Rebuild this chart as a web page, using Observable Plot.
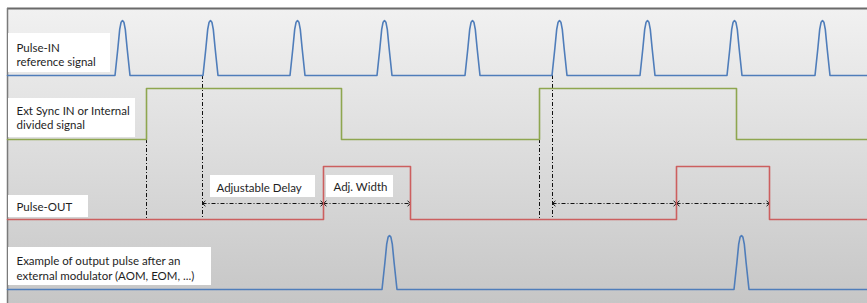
<!DOCTYPE html>
<html>
<head>
<meta charset="utf-8">
<script src="https://cdn.jsdelivr.net/npm/d3@7"></script>
<script src="https://cdn.jsdelivr.net/npm/@observablehq/plot@0.6"></script>
<style>
  html, body { margin: 0; padding: 0; background: #ffffff; }
  #chart svg { display: block; }
</style>
</head>
<body>
<div id="chart"></div>
<script>
// ---- Data (time axis in picture units) ----
const pulseInTimes = [122, 210, 297, 384, 472, 559, 647, 734, 822];   // reference pulse peaks
const syncEdges = [146, 341, 539, 736];                               // rise, fall, rise, fall
const outEdges = [323, 410, 676, 769];                                // rise, fall, rise, fall
const modPulseTimes = [389, 741];                                     // modulated output pulses
const pulseProfileOffsets = [-7.5, -4.6, -2.8, -1.4, 0, 1.4, 2.8, 4.6, 7.5];
const pulseProfileLevels = [0, 0.5, 0.84, 0.97, 1, 0.97, 0.84, 0.5, 0];
const markerTimes = [146, 202, 539, 552];                             // dash-dot vertical guides
const markerFrom = ["sync", "pulse", "sync", "pulse"];
const delayStarts = [202, 552];
const labelTexts = [
  "Pulse-IN\nreference signal",
  "Ext Sync IN or Internal\ndivided signal",
  "Pulse-OUT",
  "Adjustable Delay",
  "Adj. Width",
  "Example of output pulse after an\nexternal modulator (AOM, EOM, ...)"
];

// ---- Layout (track levels, box positions) ----
const T0 = 7, T1 = 867;
const track = {
  pin:  {low: 75,  high: 20},
  sync: {low: 139, high: 88},
  out:  {low: 219, high: 166},
  mod:  {low: 289, high: 235}
};
const arrowY = 203;
const labelLayout = [
  {x1: 8,   x2: 110, y1: 33,  y2: 72,  tx: 16,  ty: 54},
  {x1: 8,   x2: 135, y1: 98,  y2: 137, tx: 16,  ty: 117},
  {x1: 8,   x2: 88,  y1: 195, y2: 217, tx: 16,  ty: 205.5},
  {x1: 210, x2: 315, y1: 175, y2: 197, tx: 216, ty: 187},
  {x1: 326, x2: 393, y1: 175, y2: 197, tx: 333, ty: 186},
  {x1: 8,   x2: 211, y1: 247, y2: 285, tx: 16,  ty: 267.5}
];
const labels = labelTexts.map((t, i) => ({text: t, ...labelLayout[i]}));

// ---- Build signal paths from the data ----
function pulseTrain(times, lv) {
  const pts = [{x: T0, y: lv.low}];
  for (const t of times) {
    pulseProfileOffsets.forEach((o, i) => {
      pts.push({x: t + o, y: lv.low + (lv.high - lv.low) * pulseProfileLevels[i]});
    });
  }
  pts.push({x: T1, y: lv.low});
  return pts;
}
function stepSignal(edges, lv) {
  const pts = [{x: T0, y: lv.low}];
  let state = false;
  for (const e of edges) {
    pts.push({x: e, y: state ? lv.high : lv.low});
    state = !state;
    pts.push({x: e, y: state ? lv.high : lv.low});
  }
  pts.push({x: T1, y: state ? lv.high : lv.low});
  return pts;
}
const pinLine = pulseTrain(pulseInTimes, track.pin);
const syncLine = stepSignal(syncEdges, track.sync);
const outLine = stepSignal(outEdges, track.out);
const modLine = pulseTrain(modPulseTimes, track.mod);

const guides = markerTimes.map((t, i) => ({
  x: t,
  y1: markerFrom[i] === "sync" ? track.sync.low : track.pin.low,
  y2: track.out.low
}));
const arrows = [];
delayStarts.forEach((s, i) => {
  arrows.push({x1: s, x2: outEdges[2 * i]});
  arrows.push({x1: outEdges[2 * i], x2: outEdges[2 * i + 1]});
});
const heads = arrows.flatMap(a => [{x: a.x1, dir: "L"}, {x: a.x2, dir: "R"}]);

// chevron arrowheads, tip at the anchor point
const chevronL = {draw(ctx, size) { const s = Math.sqrt(size) / 2; ctx.moveTo(s * 1.1, -s); ctx.lineTo(0, 0); ctx.lineTo(s * 1.1, s); }};
const chevronR = {draw(ctx, size) { const s = Math.sqrt(size) / 2; ctx.moveTo(-s * 1.1, -s); ctx.lineTo(0, 0); ctx.lineTo(-s * 1.1, s); }};

function gradientDefs() {
  const defs = d3.create("svg:defs");
  const lg = defs.append("linearGradient").attr("id", "bgGrad")
    .attr("x1", 0).attr("y1", 0).attr("x2", 0).attr("y2", 1);
  lg.append("stop").attr("offset", "0%").attr("stop-color", "#f1f1f1");
  lg.append("stop").attr("offset", "55%").attr("stop-color", "#dadada");
  lg.append("stop").attr("offset", "100%").attr("stop-color", "#c6c6c6");
  return defs.node();
}

const dash = "4,2,1,2";
const chart = Plot.plot({
  width: 867,
  height: 303,
  marginLeft: 7,
  marginTop: 8,
  marginRight: 0,
  marginBottom: 0,
  style: {background: "#ffffff", fontFamily: "Lato, 'Open Sans', sans-serif", overflow: "visible"},
  x: {domain: [T0, T1], axis: null},
  y: {domain: [303, 8], axis: null},
  symbol: {type: "identity"},
  marks: [
    gradientDefs,
    Plot.frame({fill: "url(#bgGrad)", stroke: "none"}),
    Plot.ruleY([8], {stroke: "#6a6a6a", strokeWidth: 2}),
    Plot.ruleX([T0], {stroke: "#7a7a7a", strokeWidth: 1.5}),
    Plot.rect(labels, {x1: "x1", x2: "x2", y1: "y1", y2: "y2", fill: "#ffffff"}),
    Plot.ruleX(guides, {x: "x", y1: "y1", y2: "y2", stroke: "#111", strokeWidth: 1, strokeDasharray: dash}),
    Plot.link(arrows, {x1: "x1", x2: "x2", y1: arrowY, y2: arrowY, stroke: "#111", strokeWidth: 1,
      strokeDasharray: dash}),
    Plot.dot(heads.filter(h => h.dir === "L"), {x: "x", y: arrowY, symbol: () => chevronL, r: 3, stroke: "#111", strokeWidth: 1, fill: "none"}),
    Plot.dot(heads.filter(h => h.dir === "R"), {x: "x", y: arrowY, symbol: () => chevronR, r: 3, stroke: "#111", strokeWidth: 1, fill: "none"}),
    Plot.line(pinLine, {x: "x", y: "y", stroke: "#4f7dba", strokeWidth: 1.6}),
    Plot.line(syncLine, {x: "x", y: "y", stroke: "#8ea64f", strokeWidth: 1.6}),
    Plot.line(outLine, {x: "x", y: "y", stroke: "#cc5f5f", strokeWidth: 1.6}),
    Plot.line(modLine, {x: "x", y: "y", stroke: "#4f7dba", strokeWidth: 1.6}),
    Plot.text(labels, {x: "tx", y: "ty", text: "text", textAnchor: "start", lineAnchor: "middle",
      lineHeight: 1.27, fontSize: 11.5, fill: "#1e1e1e"})
  ]
});
document.getElementById("chart").appendChild(chart);
</script>
</body>
</html>
